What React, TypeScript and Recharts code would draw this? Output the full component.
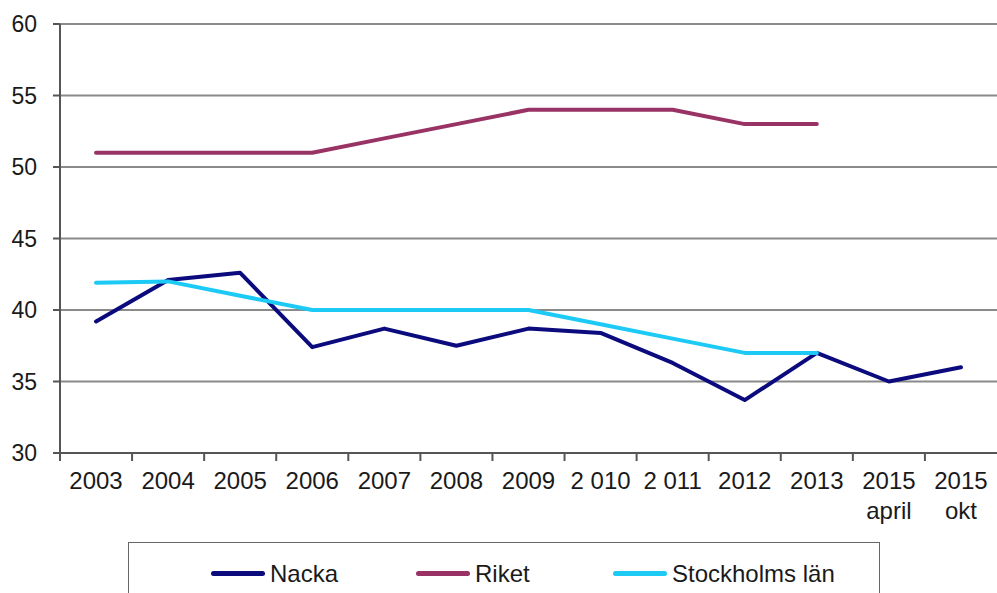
import { LineChart, Line, XAxis, YAxis, CartesianGrid, Legend } from 'recharts'

const categories = ['2003', '2004', '2005', '2006', '2007', '2008', '2009', '2 010', '2 011', '2012', '2013', '2015\napril', '2015\nokt']
const nacka = [39.2, 42.1, 42.6, 37.4, 38.7, 37.5, 38.7, 38.4, 36.3, 33.7, 37.0, 35.0, 36.0]
const riket = [51, 51, 51, 51, 52, 53, 54, 54, 54, 53, 53, null, null]
const stockholm = [41.9, 42, 41, 40, 40, 40, 40, 39, 38, 37, 37, null, null]
const yTicks = [30, 35, 40, 45, 50, 55, 60]

const SERIES = [
  { key: 'nacka', name: 'Nacka', color: '#0b0b7e' },
  { key: 'riket', name: 'Riket', color: '#993366' },
  { key: 'stockholm', name: 'Stockholms län', color: '#1ccaf5' },
]

const FONT = '"Liberation Sans", Arial, sans-serif'
const BAND = 937 / categories.length

const data = categories.map((c, i) => ({
  cat: c,
  nacka: nacka[i],
  riket: riket[i],
  stockholm: stockholm[i],
}))

function CatTick({ x, y, payload }: any) {
  const lines = String(payload.value).split('\n')
  return (
    <g>
      <line x1={x - BAND / 2} x2={x - BAND / 2} y1={y - 8} y2={y} stroke='#555' strokeWidth={2} />
      <text x={x} y={y + 28} textAnchor='middle' fill='#1a1a1a' fontSize={24} fontFamily={FONT}>
        {lines.map((l, i) => (
          <tspan key={i} x={x} dy={i === 0 ? 0 : 30}>
            {l}
          </tspan>
        ))}
      </text>
    </g>
  )
}

function LegendBox() {
  const widths = [205, 197, 240]
  return (
    <div
      style={{
        width: 752,
        height: 60,
        boxSizing: 'border-box',
        border: '1.5px solid #666',
        borderBottom: 'none',
        display: 'flex',
        alignItems: 'center',
        paddingLeft: 82,
        paddingTop: 2,
        fontFamily: FONT,
        fontSize: 24,
        color: '#1a1a1a',
        whiteSpace: 'nowrap',
      }}
    >
      {SERIES.map((s, i) => (
        <div key={s.key} style={{ display: 'flex', alignItems: 'center', flex: 'none', width: widths[i] }}>
          <span style={{ display: 'inline-block', width: 54, height: 5, borderRadius: 3, background: s.color, marginRight: 5 }} />
          <span>{s.name}</span>
        </div>
      ))}
    </div>
  )
}

export default function App() {
  return (
    <div style={{ position: 'absolute', left: 0, top: 0, background: '#fff' }}>
      <LineChart width={997} height={593} data={data} margin={{ top: 24, right: 0, left: 0, bottom: 20 }}>
        <CartesianGrid vertical={false} stroke='#8a8a8a' strokeWidth={2} />
        <XAxis
          dataKey='cat'
          scale='band'
          height={60}
          interval={0}
          tickLine={false}
          axisLine={{ stroke: '#555', strokeWidth: 2 }}
          tick={<CatTick />}
        />
        <YAxis
          width={60}
          domain={[30, 60]}
          ticks={yTicks}
          interval={0}
          tickSize={7}
          tickMargin={16}
          axisLine={{ stroke: '#555', strokeWidth: 2 }}
          tickLine={{ stroke: '#555', strokeWidth: 2 }}
          tick={{ fill: '#1a1a1a', fontSize: 23, fontFamily: FONT }}
        />
        {SERIES.map((s) => (
          <Line
            key={s.key}
            dataKey={s.key}
            name={s.name}
            stroke={s.color}
            strokeWidth={4}
            strokeLinecap='round'
            strokeLinejoin='round'
            dot={false}
            activeDot={false}
            isAnimationActive={false}
          />
        ))}
        <Legend
          content={<LegendBox />}
          height={60}
          wrapperStyle={{ position: 'absolute', left: 128, top: 542, width: 752, height: 60, bottom: 'auto' }}
        />
      </LineChart>
    </div>
  )
}
